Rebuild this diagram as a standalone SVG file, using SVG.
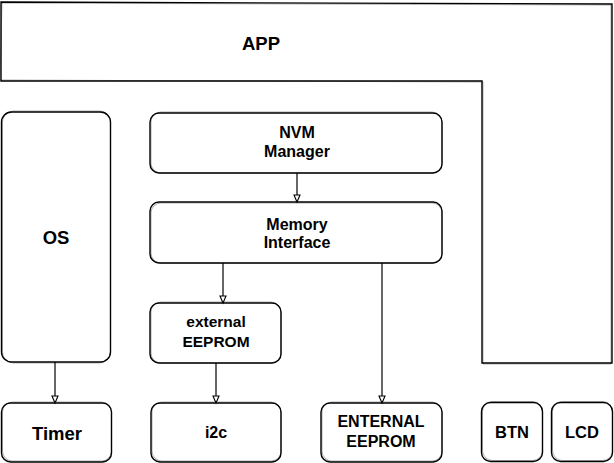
<svg xmlns="http://www.w3.org/2000/svg" width="614" height="463" viewBox="0 0 614 463">
<defs>
<style>
.b{fill:#fff;stroke:#000;stroke-width:1.4}
.s{fill:none;stroke:#000;stroke-width:0.7;opacity:0.45}
.t{font-family:"Liberation Sans",Arial,sans-serif;font-weight:bold;fill:#000;text-anchor:middle}
.c{fill:none;stroke:#000;stroke-width:1.2}
</style>
<marker id="ah" markerWidth="10" markerHeight="10" refX="8" refY="4" orient="auto" markerUnits="userSpaceOnUse">
<path d="M1,1 L8,4 L1,7 Z" fill="#fff" stroke="#000" stroke-width="1.1"/>
</marker>
</defs>
<rect width="614" height="463" fill="#fff"/>

<g id="app">
<path class="b" d="M1,2 L612,4 L612,363 L482,363 L482,81 L1,81 Z"/>
<path class="s" d="M2,3 L611,5 L611,364 L483,364 L483,82 L0,80 Z"/>
<text class="t" x="261" y="50" font-size="18.5">APP</text>
</g>

<g id="os">
<rect class="b" x="1.5" y="112" width="109" height="250" rx="10"/>
<rect class="s" x="2.5" y="111" width="108" height="252" rx="11"/>
<text class="t" x="56" y="244" font-size="18.5">OS</text>
</g>

<g id="nvm">
<rect class="b" x="150" y="113" width="292" height="60" rx="9"/>
<rect class="s" x="151" y="112" width="291" height="61" rx="10"/>
<text class="t" x="297" y="138" font-size="16">NVM</text>
<text class="t" x="297" y="157" font-size="16">Manager</text>
</g>

<g id="memif">
<rect class="b" x="150" y="202" width="292" height="61" rx="9"/>
<rect class="s" x="151" y="203" width="291" height="60" rx="10"/>
<text class="t" x="297" y="230" font-size="16">Memory</text>
<text class="t" x="297" y="248" font-size="16">Interface</text>
</g>

<g id="exteeprom">
<rect class="b" x="150" y="303" width="131" height="60" rx="9"/>
<rect class="s" x="151" y="302" width="130" height="61" rx="10"/>
<text class="t" x="216" y="327" font-size="15.5">external</text>
<text class="t" x="216" y="347" font-size="15.5">EEPROM</text>
</g>

<g id="timer">
<rect class="b" x="1.5" y="403" width="110" height="59" rx="9"/>
<rect class="s" x="2.5" y="402" width="109" height="59" rx="10"/>
<text class="t" x="57" y="440" font-size="18.5">Timer</text>
</g>

<g id="i2c">
<rect class="b" x="151" y="403" width="130" height="59" rx="9"/>
<rect class="s" x="152" y="402" width="129" height="59" rx="10"/>
<text class="t" x="216" y="438" font-size="16">i2c</text>
</g>

<g id="enternal">
<rect class="b" x="321" y="403" width="121" height="59" rx="9"/>
<rect class="s" x="322" y="402" width="120" height="59" rx="10"/>
<text class="t" x="381" y="427" font-size="16">ENTERNAL</text>
<text class="t" x="381" y="447" font-size="16">EEPROM</text>
</g>

<g id="btn">
<rect class="b" x="481.5" y="402.5" width="61" height="59" rx="9"/>
<rect class="s" x="482.5" y="401.5" width="60" height="59" rx="10"/>
<text class="t" x="512" y="438" font-size="16.5">BTN</text>
</g>

<g id="lcd">
<rect class="b" x="551.5" y="402.5" width="61" height="59" rx="9"/>
<rect class="s" x="552.5" y="401.5" width="60" height="59" rx="10"/>
<text class="t" x="582" y="438" font-size="16.5">LCD</text>
</g>

<g id="connectors">
<path class="c" d="M297,173 L297,202" marker-end="url(#ah)"/>
<path class="c" d="M223,263 L223,303" marker-end="url(#ah)"/>
<path class="c" d="M382,263 L382,403" marker-end="url(#ah)"/>
<path class="c" d="M55,362 L55,403" marker-end="url(#ah)"/>
<path class="c" d="M216,363 L216,403" marker-end="url(#ah)"/>
</g>
</svg>
